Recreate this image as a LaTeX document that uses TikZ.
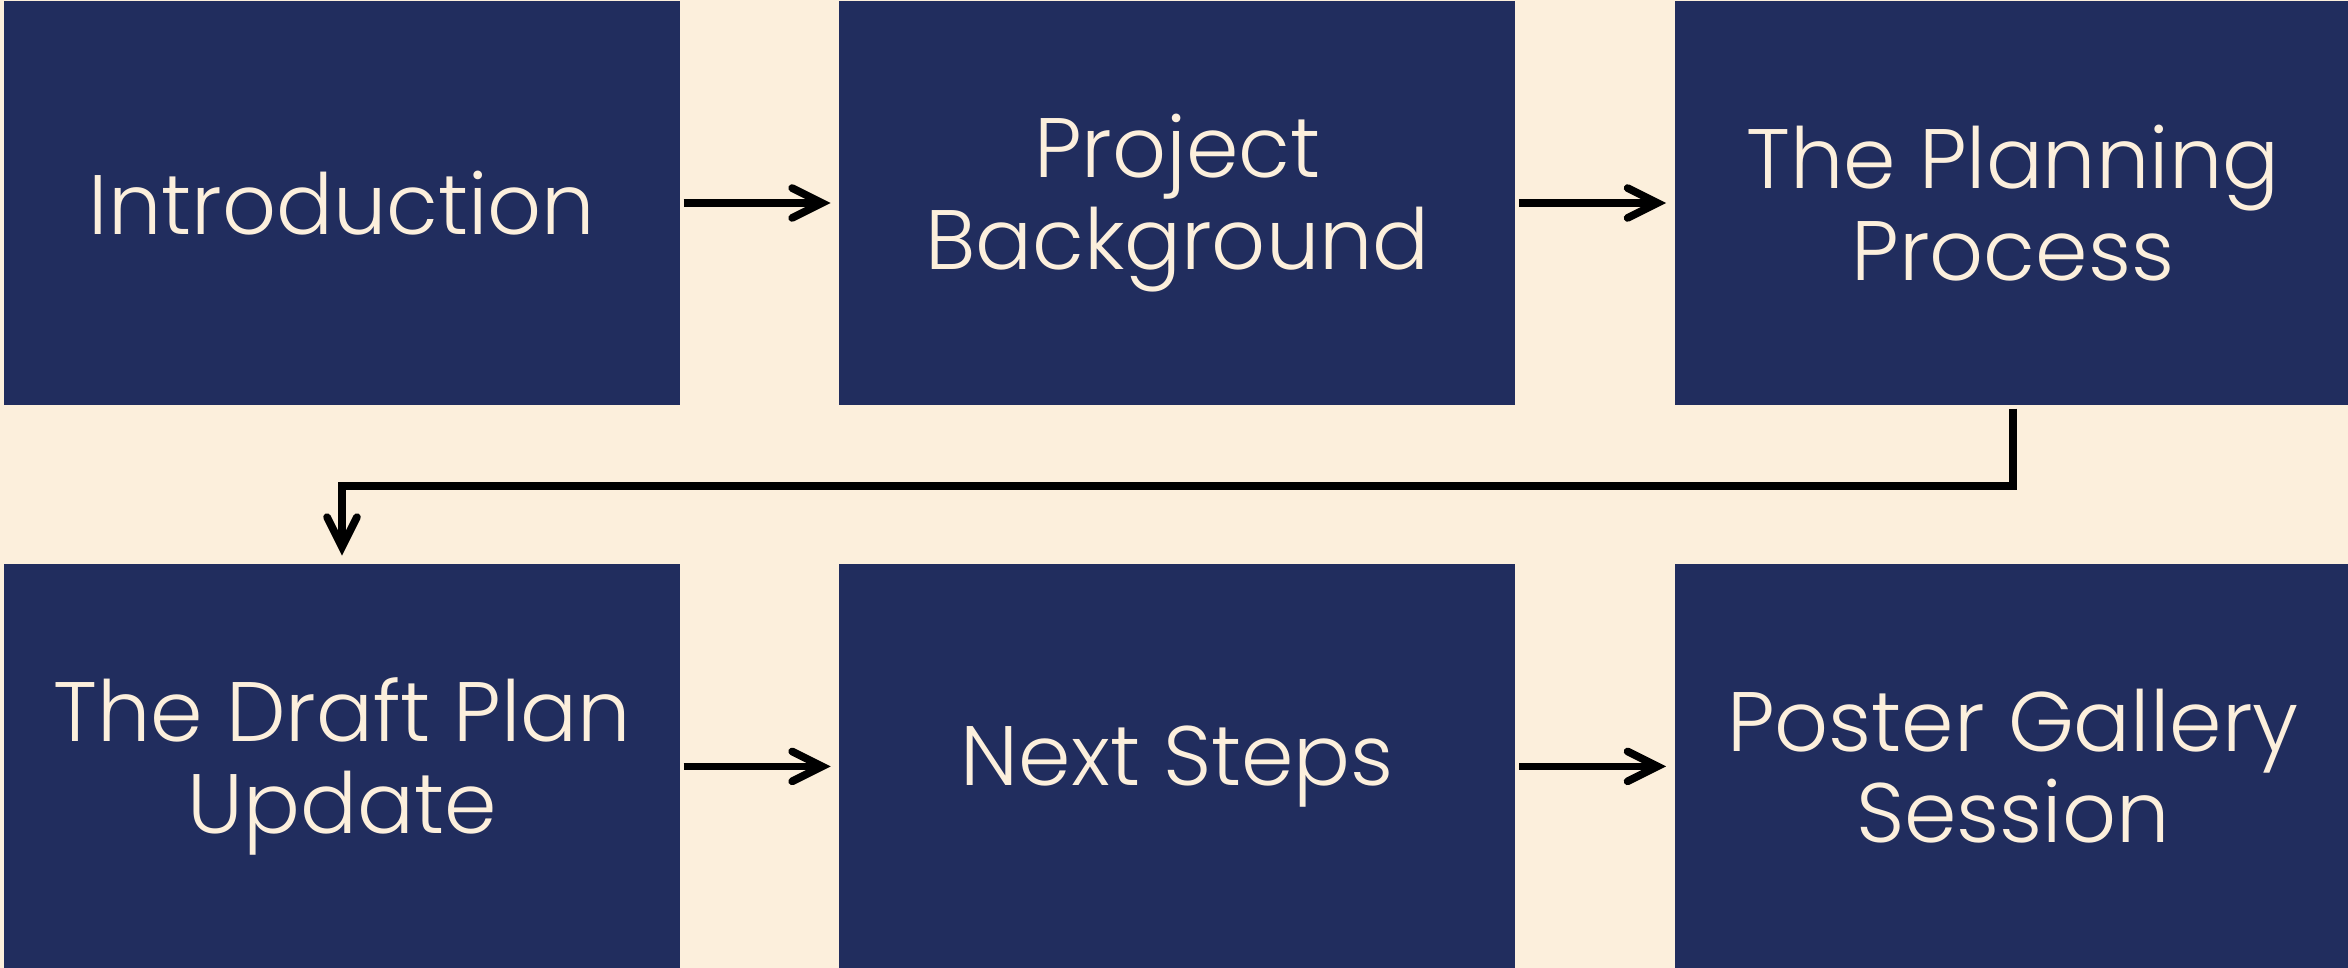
\documentclass[tikz,border=0pt]{standalone}
\usepackage{fontspec}
\setmainfont{Poppins}[UprightFont=* Light]
\usetikzlibrary{arrows.meta,positioning}
\definecolor{BoxNavy}{RGB}{33,45,94}
\definecolor{PaperCream}{RGB}{252,239,220}
\tikzset{
  topicbox/.style={fill=BoxNavy, text=PaperCream, minimum width=6.76cm,
    minimum height=4.04cm, inner sep=0pt, align=center,
    font=\fontsize{24}{26}\selectfont},
  flowarrow/.style={line width=2.2pt,
    -{Straight Barb[length=8.5pt,width=8.5pt,line cap=round]},
    shorten >=0.08cm, shorten <=0.03cm}
}

\begin{document}
\begin{tikzpicture}[node distance=1.58cm]
  \fill[PaperCream] (0,0) rectangle (23.48,-9.68);
  \useasboundingbox (0,0) rectangle (23.48,-9.68);
  % top row
  \node[topicbox] (intro) at (3.42,-2.03) {Introduction};
  \node[topicbox, right=of intro] (background) {Project\\Background};
  \node[topicbox, right=of background] (planning) {The Planning\\Process};
  % bottom row
  \node[topicbox, below=of intro] (draft) {The Draft Plan\\Update};
  \node[topicbox, right=of draft] (next) {Next Steps};
  \node[topicbox, right=of next] (poster) {Poster Gallery\\Session};
  % connectors
  \draw[flowarrow] (intro) -- (background);
  \draw[flowarrow] (background) -- (planning);
  \draw[flowarrow] (planning.south) -- ++(0,-0.8) -| (draft.north);
  \draw[flowarrow] (draft) -- (next);
  \draw[flowarrow] (next) -- (poster);
\end{tikzpicture}
\end{document}
